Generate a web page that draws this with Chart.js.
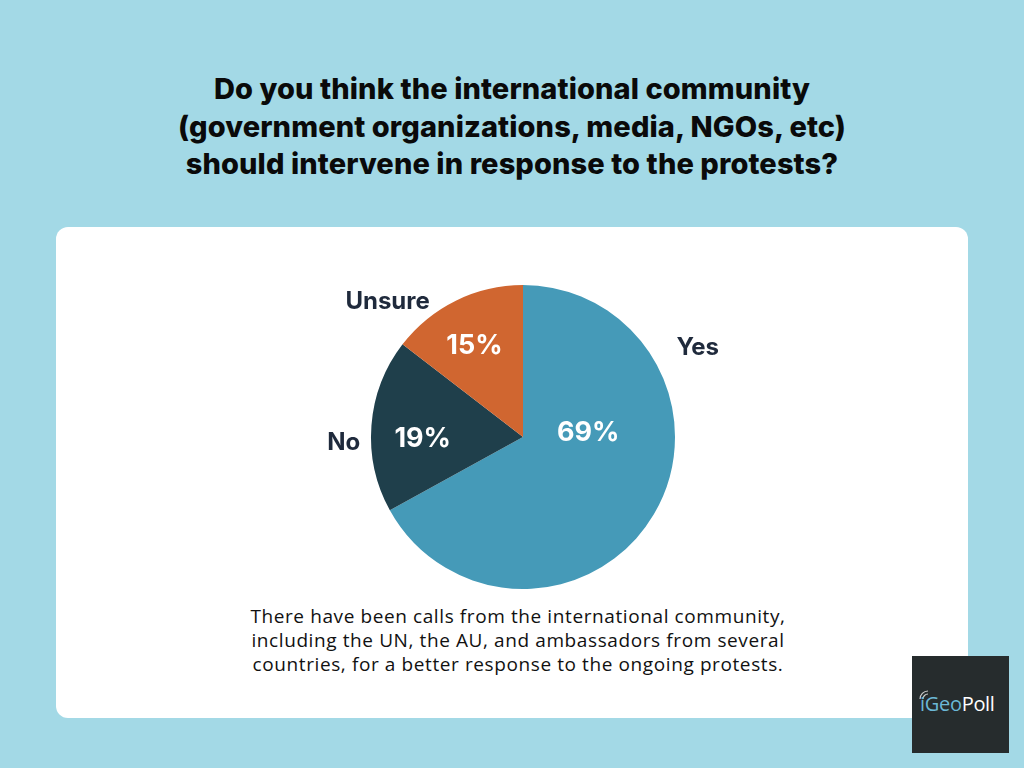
<!DOCTYPE html>
<html>
<head>
<meta charset="utf-8">
<script src="https://cdn.jsdelivr.net/npm/chart.js@4"></script>
<style>
  html, body { margin: 0; padding: 0; }
  body { width: 1024px; height: 768px; background: #a3d9e6; position: relative; overflow: hidden; font-family: 'Inter', sans-serif; }
  #title { position: absolute; left: 0; top: 70px; width: 1024px; text-align: center; font-family: 'Inter', sans-serif; font-weight: 800; font-size: 29px; line-height: 37.5px; color: #0a0a0a; letter-spacing: 0.1px; }
  #card { position: absolute; left: 56px; top: 227px; width: 912px; height: 491px; background: #fff; border-radius: 12px; }
  #chartBox { position: absolute; left: 223px; top: 275px; width: 600px; height: 324px; }
  #note { position: absolute; left: 168px; top: 604px; width: 700px; text-align: center; font-family: 'Open Sans', sans-serif; font-size: 19px; line-height: 24px; color: #111; letter-spacing: 0.6px; }
  #logo { position: absolute; left: 912px; top: 656px; width: 97px; height: 97px; background: #262c2d; }
  #logo span.txt { position: absolute; left: 8px; top: 34px; font-family: 'Open Sans', sans-serif; font-size: 20px; letter-spacing: -0.3px; }
  #logo svg { position: absolute; left: 6px; top: 32px; }
</style>
</head>
<body>
<div id="title">Do you think the international community<br>(government organizations, media, NGOs, etc)<br>should intervene in response to the protests?</div>
<div id="card"></div>
<div id="chartBox"><canvas id="pie" width="600" height="324"></canvas></div>
<div id="note">There have been calls from the international community,<br>including the UN, the AU, and ambassadors from several<br>countries, for a better response to the ongoing protests.</div>
<div id="logo">
  <svg width="14" height="14" viewBox="0 0 14 14"><path d="M5 11 A5 5 0 0 1 10 6" stroke="#ccc" stroke-width="1.2" fill="none"/><path d="M2 11 A8 8 0 0 1 10 3" stroke="#ccc" stroke-width="1.2" fill="none"/></svg>
  <span class="txt"><span style="color:#6bb8d6">iGeo</span><span style="color:#fff">Poll</span></span>
</div>
<script>
const categories = ['Yes', 'No', 'Unsure'];
const shares = [69, 19, 15];
const shareLabels = ['69%', '19%', '15%'];
const sliceColors = ['#459ab8', '#1f3f4b', '#d06630'];

// label placement: angle in degrees clockwise from top, distance as fraction of radius
const insideSpots = [{ a: 86, r: 0.43 }, { a: 269, r: 0.66 }, { a: 332, r: 0.68 }];
const outsideSpots = [{ a: 63, r: 1.29 }, { a: 268, r: 1.18 }, { a: 315, r: 1.26 }];

const pieLabels = {
    id: 'pieLabels',
    afterDatasetsDraw(chart) {
        const ctx = chart.ctx;
        const arcs = chart.getDatasetMeta(0).data;
        ctx.save();
        ctx.textAlign = 'center';
        ctx.textBaseline = 'middle';
        arcs.forEach((arc, i) => {
            const { x, y, outerRadius } = arc.getProps(['x', 'y', 'outerRadius'], true);
            const spot = (s) => {
                const rad = s.a * Math.PI / 180;
                return [x + Math.sin(rad) * s.r * outerRadius, y - Math.cos(rad) * s.r * outerRadius];
            };
            let [ix, iy] = spot(insideSpots[i]);
            ctx.font = '700 27px Inter, sans-serif';
            ctx.fillStyle = '#ffffff';
            ctx.fillText(shareLabels[i], ix, iy);
            let [ox, oy] = spot(outsideSpots[i]);
            ctx.font = '700 24px Inter, sans-serif';
            ctx.fillStyle = '#1f2a3c';
            ctx.fillText(categories[i], ox, oy);
        });
        ctx.restore();
    }
};

new Chart(document.getElementById('pie'), {
    type: 'pie',
    data: {
        labels: categories,
        datasets: [{
            data: shares,
            backgroundColor: sliceColors,
            borderWidth: 0
        }]
    },
    options: {
        responsive: false,
        animation: false,
        layout: { padding: 10 },
        plugins: {
            legend: { display: false },
            tooltip: { enabled: false }
        }
    },
    plugins: [pieLabels]
});
</script>
</body>
</html>
